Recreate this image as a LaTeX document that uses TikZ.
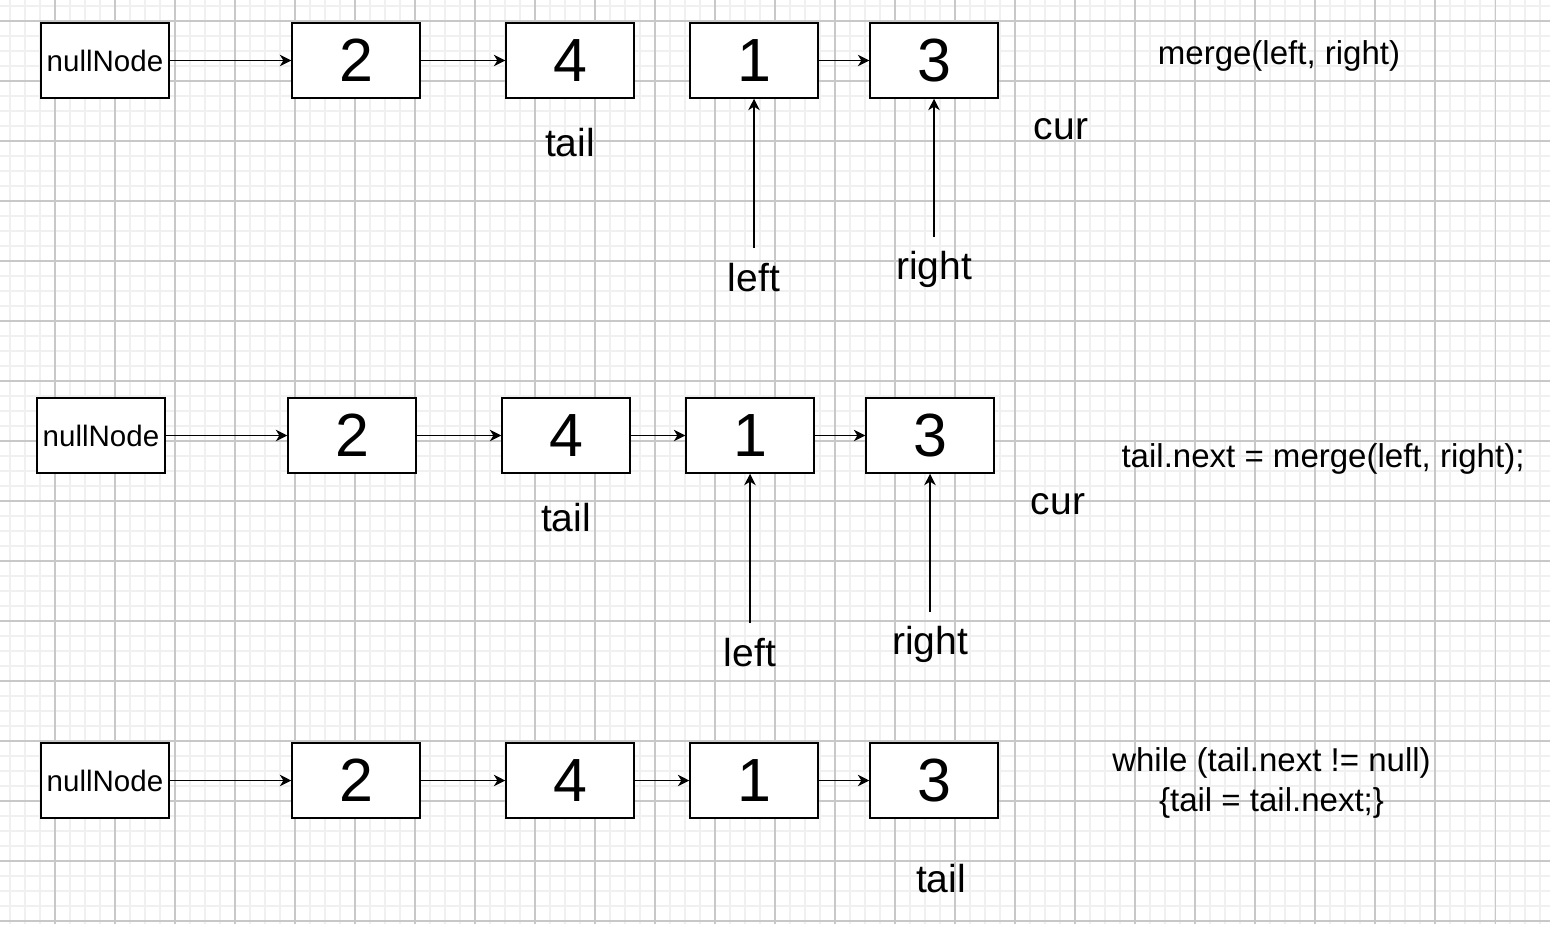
\documentclass[tikz,border=0pt]{standalone}
\usepackage{fontspec}
\setmainfont{Liberation Sans}
\usetikzlibrary{arrows.meta}
\definecolor{gridminor}{RGB}{240,240,240}
\definecolor{gridmajor}{RGB}{200,200,200}
\begin{document}
\begin{tikzpicture}[x=0.02cm,y=-0.02cm,
  box/.style={draw=black, line width=0.85pt, fill=white, minimum width=2.56cm, minimum height=1.5cm, inner sep=0pt, font=\fontsize{34.7}{40}\selectfont},
  nbox/.style={box, font=\fontsize{16.8}{20}\selectfont},
  lbl/.style={inner sep=0pt, anchor=base, font=\fontsize{22.2}{26}\selectfont},
  code/.style={inner sep=0pt, anchor=base, font=\fontsize{18.8}{22}\selectfont},
  arr/.style={-{Stealth[length=6.5pt,width=6.5pt,inset=2pt]}, line width=0.8pt},
  minorg/.style={draw=gridminor, line width=0.7pt},
  majorg/.style={draw=gridmajor, line width=0.6pt}
]
\useasboundingbox (0,0) rectangle (1550,924);
\fill[white] (0,0) rectangle (1550,924);
% grid
\foreach \x in {10,25,...,1550} \draw[minorg] (\x,0) -- (\x,924);
\foreach \y in {6,21,...,924} \draw[minorg] (0,\y) -- (1550,\y);
\foreach \x in {55,115,...,1550} \draw[majorg] (\x,0) -- (\x,924);
\foreach \y in {21,81,...,924} \draw[majorg] (0,\y) -- (1550,\y);

% row 1
\node[nbox] (n1) at (105,60.5) {nullNode};
\node[box] (a1) at (356,60.5) {2};
\node[box] (b1) at (570,60.5) {4};
\node[box] (c1) at (754,60.5) {1};
\node[box] (d1) at (934,60.5) {3};
\draw[arr] (n1) -- (a1);
\draw[arr] (a1) -- (b1);
\draw[arr] (c1) -- (d1);
\node[lbl] (tail1) at (570,156) {tail};
\node[lbl] (cur1) at (1061,139) {cur};
\node[lbl] (left1) at (754,291) {left};
\node[lbl] (right1) at (934,279) {right};
\coordinate (ls1) at (754,248);
\coordinate (rs1) at (934,237);
\draw[arr] (ls1) -- (c1.south);
\draw[arr] (rs1) -- (d1.south);
\node[code] (t1) at (1279,64) {merge(left, right)};

% row 2
\node[nbox] (n2) at (101,435.5) {nullNode};
\node[box] (a2) at (352,435.5) {2};
\node[box] (b2) at (566,435.5) {4};
\node[box] (c2) at (750,435.5) {1};
\node[box] (d2) at (930,435.5) {3};
\draw[arr] (n2) -- (a2);
\draw[arr] (a2) -- (b2);
\draw[arr] (b2) -- (c2);
\draw[arr] (c2) -- (d2);
\node[lbl] (tail2) at (566,531) {tail};
\node[lbl] (cur2) at (1058,514) {cur};
\node[lbl] (left2) at (750,666) {left};
\node[lbl] (right2) at (930,654) {right};
\coordinate (ls2) at (750,623);
\coordinate (rs2) at (930,612);
\draw[arr] (ls2) -- (c2.south);
\draw[arr] (rs2) -- (d2.south);
\node[code] (t2) at (1323,467) {tail.next = merge(left, right);};

% row 3
\node[nbox] (n3) at (105,780.5) {nullNode};
\node[box] (a3) at (356,780.5) {2};
\node[box] (b3) at (570,780.5) {4};
\node[box] (c3) at (754,780.5) {1};
\node[box] (d3) at (934,780.5) {3};
\draw[arr] (n3) -- (a3);
\draw[arr] (a3) -- (b3);
\draw[arr] (b3) -- (c3);
\draw[arr] (c3) -- (d3);
\node[lbl] (tail3) at (941,892) {tail};
\node[code] (w1) at (1271.5,771) {while (tail.next != null)};
\node[code] (w2) at (1271.5,811) {\{tail = tail.next;\}};
\end{tikzpicture}
\end{document}
